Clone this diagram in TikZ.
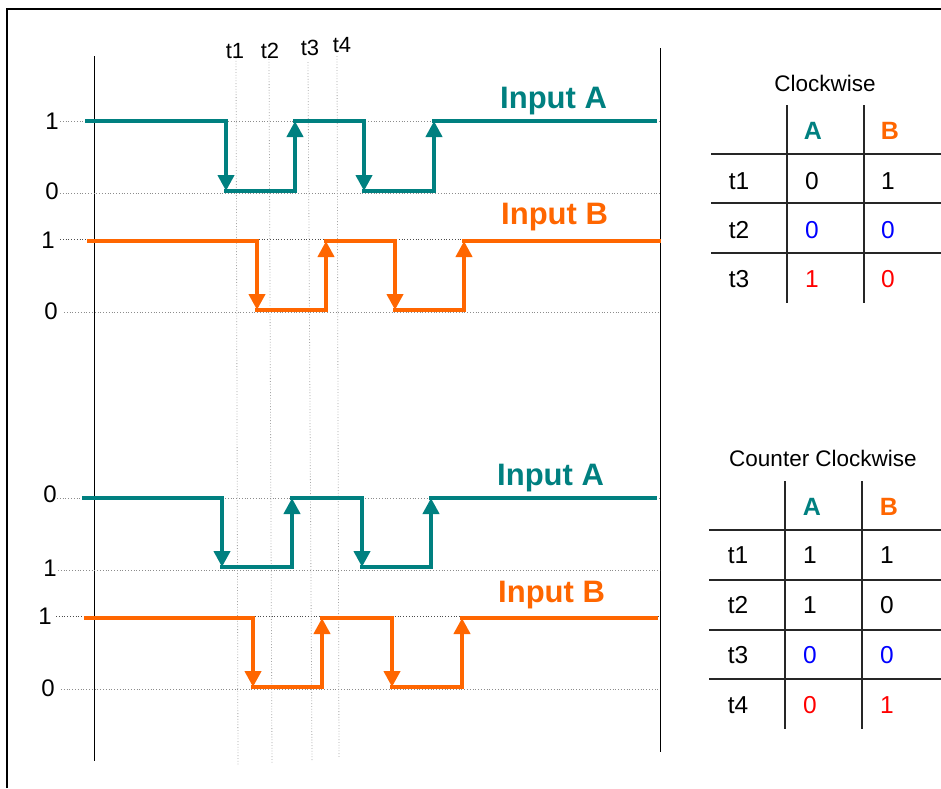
\documentclass[tikz,border=0pt]{standalone}
\usepackage{fontspec}
\setmainfont{Liberation Sans}
\usetikzlibrary{arrows.meta}
\definecolor{tealc}{RGB}{0,128,128}
\definecolor{orngc}{RGB}{255,102,0}
\definecolor{blu}{RGB}{0,0,255}
\definecolor{rd}{RGB}{255,0,0}
\begin{document}
\begin{tikzpicture}[x=1pt,y=-1pt,
  gridln/.style={black!45, dotted, line width=0.8pt},
  tline/.style={black!35, dotted, line width=0.8pt},
  axis/.style={black, line width=0.9pt},
  lvA/.style={tealc, line width=4.8pt, line cap=rect},
  lvB/.style={orngc, line width=4.8pt, line cap=rect},
  edA/.style={tealc, line width=4.8pt, -{Triangle[width=16pt,length=16pt]}},
  edB/.style={orngc, line width=4.8pt, -{Triangle[width=16pt,length=16pt]}},
  lvl/.style={font=\fontsize{24}{24}\selectfont, inner sep=0pt},
  tlab/.style={font=\fontsize{22}{22}\selectfont, inner sep=0pt},
  title/.style={font=\bfseries\fontsize{31}{31}\selectfont, inner sep=0pt, anchor=base west},
  tbl/.style={black!85, line width=1.3pt},
  cell/.style={font=\fontsize{24.5}{24.5}\selectfont, inner sep=0pt},
  hcell/.style={font=\bfseries\fontsize{25}{25}\selectfont, inner sep=0pt},
  ttl/.style={font=\fontsize{22.5}{22.5}\selectfont, inner sep=0pt}]
\useasboundingbox (0,0) rectangle (941,788);
\fill[white] (0,0) rectangle (941,788);
% frame
\draw[black, line width=2.2pt] (7,788) -- (7,9) -- (941,9);

% axes
\draw[axis] (94,56) -- (94,761);
\draw[axis] (660,48) -- (660,752);

% grid lines
\draw[gridln] (60,121) -- (660,121);
\draw[gridln] (60,193) -- (660,193);
\draw[gridln, black!70] (60,239) -- (660,239);
\draw[gridln] (64,312) -- (660,312);
\draw[gridln] (57,498) -- (660,498);
\draw[gridln] (58,570) -- (660,570);
\draw[gridln, black!70] (56,616) -- (660,616);
\draw[gridln] (61,689) -- (660,689);

% time lines
\coordinate (t1a) at (236,58);  \coordinate (t1b) at (238,765);
\coordinate (t2a) at (269,59);  \coordinate (t2b) at (272,763);
\coordinate (t3a) at (308,62);  \coordinate (t3b) at (312,761);
\coordinate (t4a) at (337,56);  \coordinate (t4b) at (339,758);
\draw[tline] (t1a) -- (t1b);
\draw[tline] (t2a) -- (t2b);
\draw[tline] (t3a) -- (t3b);
\draw[tline] (t4a) -- (t4b);
\node[tlab] (lt1) at (235,51) {t1};
\node[tlab] (lt2) at (270,51) {t2};
\node[tlab] (lt3) at (310,48) {t3};
\node[tlab] (lt4) at (342,45) {t4};

% level labels
\node[lvl] (l1) at (52,121) {1};
\node[lvl] (l2) at (52,191) {0};
\node[lvl] (l3) at (48,240) {1};
\node[lvl] (l4) at (51,311) {0};
\node[lvl] (l5) at (50,494) {0};
\node[lvl] (l6) at (50,568) {1};
\node[lvl] (l7) at (45,616) {1};
\node[lvl] (l8) at (48,688) {0};

% top A
\draw[lvA] (87,121) -- (226,121);
\draw[lvA] (226,191) -- (295,191);
\draw[lvA] (295,121) -- (364,121);
\draw[lvA] (364,191) -- (434,191);
\draw[lvA] (434,121) -- (655,121);
\draw[edA] (226,121) -- (226,191);
\draw[edA] (295,191) -- (295,121);
\draw[edA] (364,121) -- (364,191);
\draw[edA] (434,191) -- (434,121);

% top B
\draw[lvB] (89,241) -- (257,241);
\draw[lvB] (257,310) -- (326,310);
\draw[lvB] (326,241) -- (395,241);
\draw[lvB] (395,310) -- (464,310);
\draw[lvB] (464,241) -- (659,241);
\draw[edB] (257,241) -- (257,310);
\draw[edB] (326,310) -- (326,241);
\draw[edB] (395,241) -- (395,310);
\draw[edB] (464,310) -- (464,241);

% bottom A
\draw[lvA] (84,498) -- (222,498);
\draw[lvA] (222,567) -- (292,567);
\draw[lvA] (292,498) -- (362,498);
\draw[lvA] (362,567) -- (431,567);
\draw[lvA] (431,498) -- (655,498);
\draw[edA] (222,498) -- (222,567);
\draw[edA] (292,567) -- (292,498);
\draw[edA] (362,498) -- (362,567);
\draw[edA] (431,567) -- (431,498);

% bottom B
\draw[lvB] (86,618) -- (253,618);
\draw[lvB] (253,687) -- (322,687);
\draw[lvB] (322,618) -- (392,618);
\draw[lvB] (392,687) -- (462,687);
\draw[lvB] (462,618) -- (656,618);
\draw[edB] (253,618) -- (253,687);
\draw[edB] (322,687) -- (322,618);
\draw[edB] (392,618) -- (392,687);
\draw[edB] (462,687) -- (462,618);

% titles
\node[title, text=tealc] (ia1) at (500,108) {Input A};
\node[title, text=orngc] (ib1) at (501,224) {Input B};
\node[title, text=tealc] (ia2) at (497,485) {Input A};
\node[title, text=orngc] (ib2) at (498,602) {Input B};

% Clockwise table
\node[ttl] (cwt) at (825,83) {Clockwise};
\draw[tbl] (787,105) -- (787,303);
\draw[tbl] (864,105) -- (864,303);
\draw[tbl] (711,154) -- (941,154);
\draw[tbl] (711,203) -- (941,203);
\draw[tbl] (711,253) -- (941,253);
\node[hcell, text=tealc] (cwA) at (813,131) {A};
\node[hcell, text=orngc] (cwB) at (890,131) {B};
\node[cell] (cwr1) at (739,181) {t1};
\node[cell] (cwr2) at (739,230) {t2};
\node[cell] (cwr3) at (739,279) {t3};
\node[cell] (cw1a) at (812,181) {0};
\node[cell] (cw1b) at (888,181) {1};
\node[cell, text=blu] (cw2a) at (812,230) {0};
\node[cell, text=blu] (cw2b) at (888,230) {0};
\node[cell, text=rd] (cw3a) at (812,279) {1};
\node[cell, text=rd] (cw3b) at (888,279) {0};

% Counter clockwise table
\node[ttl] (ccwt) at (823,458) {Counter Clockwise};
\draw[tbl] (785,481) -- (785,729);
\draw[tbl] (862,481) -- (862,729);
\draw[tbl] (709,530) -- (941,530);
\draw[tbl] (709,580) -- (941,580);
\draw[tbl] (709,630) -- (941,630);
\draw[tbl] (709,679) -- (941,679);
\node[hcell, text=tealc] (ccA) at (812,507) {A};
\node[hcell, text=orngc] (ccB) at (889,507) {B};
\node[cell] (ccr1) at (738,555) {t1};
\node[cell] (ccr2) at (738,605) {t2};
\node[cell] (ccr3) at (738,655) {t3};
\node[cell] (ccr4) at (738,705) {t4};
\node[cell] (cc1a) at (810,555) {1};
\node[cell] (cc1b) at (887,555) {1};
\node[cell] (cc2a) at (810,605) {1};
\node[cell] (cc2b) at (887,605) {0};
\node[cell, text=blu] (cc3a) at (810,655) {0};
\node[cell, text=blu] (cc3b) at (887,655) {0};
\node[cell, text=rd] (cc4a) at (810,705) {0};
\node[cell, text=rd] (cc4b) at (887,705) {1};
\end{tikzpicture}
\end{document}
